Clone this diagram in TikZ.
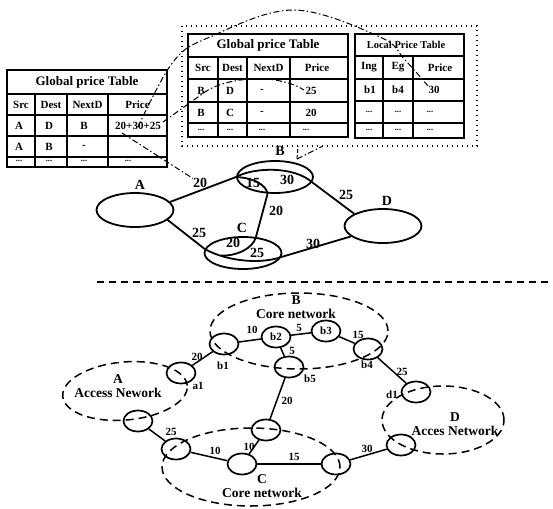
\documentclass[tikz,border=0pt]{standalone}
\usepackage{fontspec}
\setmainfont{Liberation Serif}
\usetikzlibrary{shapes.geometric}

\begin{document}
\begin{tikzpicture}[x=1pt,y=-1pt,
  every node/.style={font=\bfseries, inner sep=0pt},
  tbl/.style={line width=1.6pt},
  cell/.style={font=\fontsize{11}{11}\selectfont\bfseries},
  dots/.style={font=\fontsize{8.5}{8.5}\selectfont\bfseries},
  ttl/.style={font=\fontsize{13}{13}\selectfont\bfseries},
  dashdot/.style={line width=1pt, dash pattern=on 6pt off 2.5pt on 1.5pt off 2.5pt},
  dotbox/.style={line width=1.6pt, dash pattern=on 1.4pt off 3.6pt},
  bignode/.style={ellipse, draw, line width=1.8pt},
  biglbl/.style={font=\fontsize{14}{14}\selectfont\bfseries},
  bigedge/.style={line width=1.8pt},
  smallnode/.style={ellipse, draw, line width=1.7pt, minimum width=29pt, minimum height=21pt},
  smalledge/.style={line width=1.5pt},
  smalllbl/.style={font=\fontsize{11}{11}\selectfont\bfseries},
  netzone/.style={ellipse, draw, line width=1.5pt, dash pattern=on 8pt off 5pt},
  zonelbl/.style={font=\fontsize{13.5}{14}\selectfont\bfseries, align=center}
]
\useasboundingbox (0,0) rectangle (553,508);

% ---------------- global price table of A ----------------
\draw[line width=2.2pt] (7,70) rectangle (167,167);
\draw[tbl] (7,94) -- (167,94) (7,115) -- (167,115) (7,136) -- (167,136) (7,157) -- (167,157);
\draw[tbl] (35,94) -- (35,167) (67,94) -- (67,167) (108,94) -- (108,167);
\node[ttl] (gA-t) at (87,82) {Global price Table};
\node[cell] (gA-h1) at (21,104.5) {Src};
\node[cell] (gA-h2) at (51,104.5) {Dest};
\node[cell] (gA-h3) at (87.5,104.5) {NextD};
\node[cell] (gA-h4) at (137.5,104.5) {Price};
\node[cell] (gA-a1) at (19,125.5) {A};
\node[cell] (gA-a2) at (49,125.5) {D};
\node[cell] (gA-a3) at (84,125.5) {B};
\node[cell] (gA-a4) at (138,125.5) {20+30+25};
\node[cell] (gA-b1) at (19,146.5) {A};
\node[cell] (gA-b2) at (49,146.5) {B};
\node[cell] (gA-b3) at (84,146.5) {-};
\node[dots] (gA-c1) at (19,161) {...};
\node[dots] (gA-c2) at (49,161) {...};
\node[dots] (gA-c3) at (84,161) {...};
\node[dots] (gA-c4) at (128,161) {...};

% ---------------- tables of B inside the dotted frame ----------------
\draw[dotbox] (182,26) rectangle (477,146);

\draw[tbl] (188,34) rectangle (348,137);
\draw[tbl] (188,57) -- (348,57) (188,79) -- (348,79) (188,102) -- (348,102) (188,123) -- (348,123);
\draw[tbl] (218,57) -- (218,137) (247,57) -- (247,137) (290,57) -- (290,137);
\node[ttl] (gB-t) at (268,45.5) {Global price Table};
\node[cell] (gB-h1) at (203,68) {Src};
\node[cell] (gB-h2) at (232.5,68) {Dest};
\node[cell] (gB-h3) at (268.5,68) {NextD};
\node[cell] (gB-h4) at (317,68) {Price};
\node[cell] (gB-a1) at (201,90.5) {B};
\node[cell] (gB-a2) at (230,90.5) {D};
\node[cell] (gB-a3) at (262,90.5) {-};
\node[cell] (gB-a4) at (311,90.5) {25};
\node[cell] (gB-b1) at (201,112.5) {B};
\node[cell] (gB-b2) at (230,112.5) {C};
\node[cell] (gB-b3) at (262,112.5) {-};
\node[cell] (gB-b4) at (311,112.5) {20};
\node[dots] (gB-c1) at (201,129.5) {...};
\node[dots] (gB-c2) at (230,129.5) {...};
\node[dots] (gB-c3) at (262,129.5) {...};
\node[dots] (gB-c4) at (306,129.5) {...};

\draw[tbl] (355,34) rectangle (464,138);
\draw[tbl] (355,56) -- (464,56) (355,79) -- (464,79) (355,101) -- (464,101) (355,123) -- (464,123);
\draw[tbl] (383,56) -- (383,138) (413,56) -- (413,138);
\node[font=\fontsize{10.5}{10.5}\selectfont\bfseries] (lB-t) at (406,45) {Local Price Table};
\node[cell] (lB-h1) at (369,67.5) {Ing};
\node[cell] (lB-h2) at (398,67.5) {Eg};
\node[cell] (lB-h3) at (440,67.5) {Price};
\node[cell] (lB-a1) at (370,90) {b1};
\node[cell] (lB-a2) at (398,90) {b4};
\node[cell] (lB-a3) at (434,90) {30};
\node[dots] (lB-b1) at (369,111.5) {...};
\node[dots] (lB-b2) at (398,111.5) {...};
\node[dots] (lB-b3) at (430,111.5) {...};
\node[dots] (lB-c1) at (369,130) {...};
\node[dots] (lB-c2) at (398,130) {...};
\node[dots] (lB-c3) at (430,130) {...};

% ---------------- domain level graph ----------------
\node[bignode, minimum width=77pt, minimum height=34pt] (tA) at (135,210) {};
\node[bignode, minimum width=76pt, minimum height=32pt] (tB) at (275,177) {};
\node[bignode, minimum width=77pt, minimum height=32pt] (tC) at (243,253) {};
\node[bignode, minimum width=77pt, minimum height=34pt] (tD) at (383,226) {};
\node[biglbl] (tA-l) at (140,185) {A};
\node[biglbl] (tB-l) at (280,151) {B};
\node[biglbl] (tC-l) at (242,228) {C};
\node[biglbl] (tD-l) at (387,201) {D};

\draw[bigedge] (tA.13) -- (tB.west);
\draw[bigedge] (tA.-17) -- (tC.174);
\draw[bigedge] (tB.-114) -- (tC.51);
\draw[bigedge] (tB.-8) -- (tD.157);
\draw[bigedge] (tC.-6) -- (tD.-162);
% paths crossing B and C
\draw[bigedge] (tB.west) .. controls +(18,-10) and +(-18,-16) .. (tB.-8);
\draw[bigedge] (tB.west) .. controls +(18,1) and +(-2,-9) .. (tB.-114);
\draw[bigedge] (tC.174) .. controls (228,262) and (262,264) .. (tC.-6);
\coordinate (cjoin) at (221,255.5);
\draw[bigedge] (tC.51) .. controls +(-3,12) and +(14,1) .. (cjoin);

\node[biglbl] (eAB) at (200,183) {20};
\node[biglbl] (eAC) at (199,233) {25};
\node[biglbl] (eB1) at (253,183) {15};
\node[biglbl] (eB2) at (287,180) {30};
\node[biglbl] (eBC) at (276,211) {20};
\node[biglbl] (eC1) at (233,243) {20};
\node[biglbl] (eC2) at (257,253) {25};
\node[biglbl] (eBD) at (346,195) {25};
\node[biglbl] (eCD) at (313,244) {30};

% price composition links
\draw[dashdot] (122,133) -- (eAB);
\draw[dashdot] (163,122) -- (205,92) .. controls (225,78) and (275,72) .. (304,90);
\draw[dashdot] plot[smooth, tension=0.6] coordinates {(138,127) (173,62) (210,37) (293,10) (380,37) (405,60) (428,86)};
\coordinate (bapex) at (297,159);
\draw[line width=1pt, dash pattern=on 4pt off 2pt] (bapex) -- (298,146);
\draw[dashdot] (bapex) -- (323,146);

% separator
\draw[line width=1.3pt, dash pattern=on 7pt off 5pt] (97,282) -- (550,282);

% ---------------- router level graph ----------------
\node[netzone, minimum width=125pt, minimum height=58pt, rotate=5] (dA) at (125,391) {};
\node[netzone, minimum width=178pt, minimum height=76pt] (dB) at (299,331) {};
\node[netzone, minimum width=178pt, minimum height=78pt] (dC) at (251,467) {};
\node[netzone, minimum width=122pt, minimum height=68pt] (dD) at (443,420) {};
\node[zonelbl] (dA-l) at (118,386) {A\\Access Nework};
\node[zonelbl] (dB-l) at (296,307) {B\\Core network};
\node[zonelbl] (dC-l) at (262,486.5) {C\\Core network};
\node[zonelbl] (dD-l) at (455,424) {D\\Acces Network};

\node[smallnode] (a1) at (181,373) {};
\node[smallnode] (b1) at (224,344) {};
\node[smallnode, smalllbl] (b2) at (276,337) {b2};
\node[smallnode, smalllbl] (b3) at (326,331) {b3};
\node[smallnode] (b4) at (368,349) {};
\node[smallnode] (b5) at (289,367) {};
\node[smallnode] (d1) at (416,392) {};
\node[smallnode] (d2) at (401,445) {};
\node[smallnode] (a2) at (138,421) {};
\node[smallnode] (c1) at (176,449) {};
\node[smallnode] (c2) at (242,464) {};
\node[smallnode] (c3) at (266,430) {};
\node[smallnode] (c4) at (336,464) {};

\draw[smalledge] (a1) -- (b1);
\draw[smalledge] (b1) -- (b2);
\draw[smalledge] (b2) -- (b3);
\draw[smalledge] (b3) -- (b4);
\draw[smalledge] (b2) -- (b5);
\draw[smalledge] (b4) -- (d1);
\draw[smalledge] (b5) -- (c3);
\draw[smalledge] (a2) -- (c1);
\draw[smalledge] (c1) -- (c2);
\draw[smalledge] (c3) -- (c2);
\draw[smalledge] (c2) -- (c4);
\draw[smalledge] (c4) -- (d2);

\node[smalllbl] (a1-l) at (198,386) {a1};
\node[smalllbl] (b1-l) at (223,366) {b1};
\node[smalllbl] (b4-l) at (367,365) {b4};
\node[smalllbl] (b5-l) at (310,379) {b5};
\node[smalllbl] (d1-l) at (392,395) {d1};

\node[smalllbl] (w1) at (197,357) {20};
\node[smalllbl] (w2) at (252,330) {10};
\node[smalllbl] (w3) at (299,327.5) {5};
\node[smalllbl] (w4) at (358,335) {15};
\node[smalllbl] (w5) at (292,351) {5};
\node[smalllbl] (w6) at (402,372) {25};
\node[smalllbl] (w7) at (287,401) {20};
\node[smalllbl] (w8) at (171,432) {25};
\node[smalllbl] (w9) at (215,451) {10};
\node[smalllbl] (w10) at (249,447) {10};
\node[smalllbl] (w11) at (294,457) {15};
\node[smalllbl] (w12) at (367,449) {30};
\end{tikzpicture}
\end{document}
